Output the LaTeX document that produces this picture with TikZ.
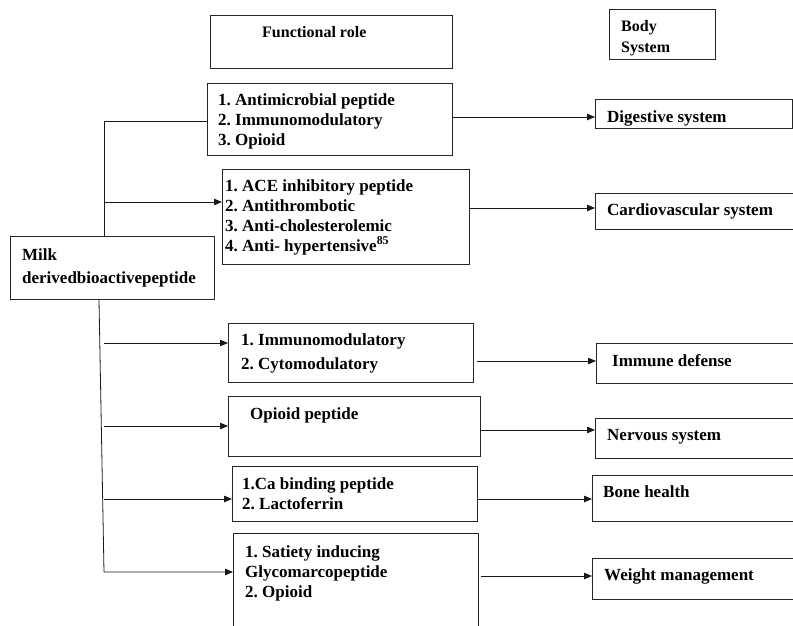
\documentclass[tikz,border=0pt]{standalone}
\usepackage{fontspec}
\setmainfont{Liberation Serif}
\usetikzlibrary{arrows.meta}
\frenchspacing
\begin{document}
\begin{tikzpicture}[x=1pt,y=-1pt,
  box/.style={draw=black!85,line width=0.9pt,rectangle,inner sep=0pt,anchor=north west},
  txt/.style={anchor=north west,inner sep=0pt,align=left,font=\fontsize{17}{20}\selectfont\bfseries},
  hdr/.style={anchor=north west,inner sep=0pt,align=left,font=\fontsize{16}{21}\selectfont\bfseries},
  line/.style={draw=black!90,line width=0.8pt},
  arr/.style={line,-{Triangle[length=8pt,width=6.5pt]}}]
\useasboundingbox (0,0) rectangle (793,625);
\clip (0,0) rectangle (793,625);
% boxes
\node[box,minimum width=242pt,minimum height=53pt] (fr) at (210,15) {};
\node[box,minimum width=106pt,minimum height=50pt] (bs) at (609,9) {};
\node[box,minimum width=245pt,minimum height=72pt] (b1) at (207,83) {};
\node[box,minimum width=247pt,minimum height=95pt] (b2) at (222,169) {};
\node[box,minimum width=204pt,minimum height=63pt] (milk) at (10,236) {};
\node[box,minimum width=197pt,minimum height=29pt] (dig) at (595,99) {};
\node[box,minimum width=205pt,minimum height=36pt] (cv) at (595,193) {};
\node[box,minimum width=245pt,minimum height=59pt] (b3) at (228,323) {};
\node[box,minimum width=204pt,minimum height=40pt] (imm) at (596,343) {};
\node[box,minimum width=252pt,minimum height=60pt] (b4) at (228,396) {};
\node[box,minimum width=205pt,minimum height=40pt] (nerv) at (595,418) {};
\node[box,minimum width=245pt,minimum height=55pt] (b5) at (232,466) {};
\node[box,minimum width=208pt,minimum height=46pt] (bone) at (592,475) {};
\node[box,minimum width=245pt,minimum height=100pt] (b6) at (233,533) {};
\node[box,minimum width=208pt,minimum height=41pt] (wt) at (592,558) {};
% texts
\node[hdr] (frt) at (262,26) {Functional role};
\node[hdr] (bst) at (621,20) {Body\\System};
\node[txt] (b1t) at (218,93) {1. Antimicrobial peptide\\2. Immunomodulatory\\3. Opioid};
\node[txt] (b2t) at (225,179) {1. ACE inhibitory peptide\\2. Antithrombotic\\3. Anti-cholesterolemic\\4. Anti- hypertensive\textsuperscript{85}};
\node[txt,font=\fontsize{17}{23}\selectfont\bfseries] (milkt) at (22,248) {Milk\\derivedbioactivepeptide};
\node[txt] (digt) at (607,110) {Digestive system};
\node[txt] (cvt) at (607,203) {Cardiovascular system};
\node[txt,font=\fontsize{17}{24}\selectfont\bfseries] (b3t) at (241,333) {1. Immunomodulatory\\2. Cytomodulatory};
\node[txt] (immt) at (612,354) {Immune defense};
\node[txt] (b4t) at (250,407) {Opioid peptide};
\node[txt] (nervt) at (607,429) {Nervous system};
\node[txt] (b5t) at (242,477) {1.Ca binding peptide\\2. Lactoferrin};
\node[txt] (bonet) at (603,485) {Bone health};
\node[txt] (b6t) at (245,545) {1. Satiety inducing\\Glycomarcopeptide\\2. Opioid};
\node[txt] (wtt) at (604,568) {Weight management};
% trunk
\coordinate (ttop) at (104,121);
\coordinate (tbot) at (104,572);
\draw[line] (ttop |- milk.north) -- (ttop) -- (b1.west |- ttop);
\draw[arr] (104,202) -- (b2.west |- 0,202);
\draw[arr] (milk.south -| 99,0) -- (tbot) -- (b6.west |- tbot);
\draw[arr] (104,343) -- (b3.west |- 0,343);
\draw[arr] (104,426) -- (b4.west |- 0,426);
\draw[arr] (104,499) -- (b5.west |- 0,499);
% right arrows
\draw[arr] (b1.east |- 0,117) -- (dig.west |- 0,117);
\draw[arr] (b2.east |- 0,208) -- (cv.west |- 0,208);
\draw[arr] ([xshift=3pt]b3.east |- 0,361) -- (imm.west |- 0,361);
\draw[arr] (b4.east |- 0,430) -- (nerv.west |- 0,430);
\draw[arr] (b5.east |- 0,499) -- (bone.west |- 0,499);
\draw[arr] ([xshift=2pt]b6.east |- 0,576) -- (wt.west |- 0,576);
\end{tikzpicture}
\end{document}
